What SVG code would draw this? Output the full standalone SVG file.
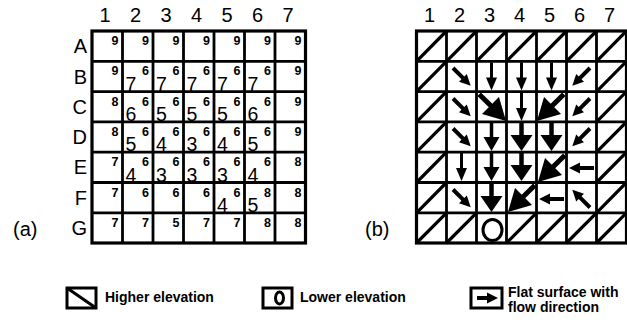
<svg xmlns="http://www.w3.org/2000/svg" xmlns:xlink="http://www.w3.org/1999/xlink" width="627" height="322" viewBox="0 0 627 322">
<style>
text{font-family:"Liberation Sans",Arial,sans-serif;fill:#000}
.hd{font-size:20px;text-anchor:middle}
.rl{font-size:20px;text-anchor:end}
.sm{font-size:12.5px;font-weight:bold;text-anchor:end}
.bg{font-size:19.5px}
.lg{font-size:14px;font-weight:bold}
.grid{stroke:#000;stroke-width:2.8;fill:none}
.outer{stroke:#000;stroke-width:3.2;fill:none}
.diag{stroke:#000;stroke-width:3.2;fill:none}
.sh{stroke:#000;fill:none}
.lbox{fill:none;stroke:#000;stroke-width:3}
</style>
<defs>
<g id="sa"><path class="sh" d="M-12,0 L3,0" stroke-width="4"/><polygon points="2,-5.5 13,0 2,5.5"/></g>
<g id="sd"><path class="sh" d="M-14,0 L2,0" stroke-width="3"/><polygon points="1,-5.5 14,0 1,5.5"/></g>
<g id="ma"><path class="sh" d="M-14,0 L1,0" stroke-width="3.5"/><polygon points="0,-8 14,0 0,8"/></g>
<g id="ba"><path class="sh" d="M-14,0 L0,0" stroke-width="4.5"/><polygon points="-2,-11 14,0 -2,11"/></g>
<g id="bd"><path class="sh" d="M-19,0 L0,0" stroke-width="5"/><polygon points="-3,-12 19,0 -3,12"/></g>
</defs>

<!-- Panel (a) -->
<g id="panel-a">
<g id="a-headers">
<text class="hd" x="105" y="22">1</text><text class="hd" x="135.5" y="22">2</text><text class="hd" x="166" y="22">3</text><text class="hd" x="196.5" y="22">4</text><text class="hd" x="227" y="22">5</text><text class="hd" x="257.5" y="22">6</text><text class="hd" x="288" y="22">7</text>
<text class="rl" x="87" y="53">A</text><text class="rl" x="87" y="83.5">B</text><text class="rl" x="87" y="113.8">C</text><text class="rl" x="87" y="144">D</text><text class="rl" x="87" y="174.4">E</text><text class="rl" x="87" y="204.7">F</text><text class="rl" x="87" y="235">G</text>
<text x="13" y="236" style="font-size:20px">(a)</text>
</g>
<g id="a-grid">
<path class="grid" d="M122.5,31V243 M153,31V243 M183.5,31V243 M214,31V243 M244.5,31V243 M275,31V243 M92,61.3H305.5 M92,91.6H305.5 M92,121.9H305.5 M92,152.2H305.5 M92,182.5H305.5 M92,212.8H305.5"/>
<rect class="outer" x="92" y="31" width="213.5" height="212"/>
</g>
<g id="a-values">
<text class="sm" x="118.5" y="45">9</text><text class="sm" x="149" y="45">9</text><text class="sm" x="179.5" y="45">9</text><text class="sm" x="210" y="45">9</text><text class="sm" x="240.5" y="45">9</text><text class="sm" x="271" y="45">9</text><text class="sm" x="301.5" y="45">9</text>
<text class="sm" x="118.5" y="75.3">9</text><text class="sm" x="149" y="75.3">6</text><text class="sm" x="179.5" y="75.3">6</text><text class="sm" x="210" y="75.3">6</text><text class="sm" x="240.5" y="75.3">6</text><text class="sm" x="271" y="75.3">6</text><text class="sm" x="301.5" y="75.3">9</text>
<text class="bg" x="125.5" y="90.6">7</text><text class="bg" x="156" y="90.6">7</text><text class="bg" x="186.5" y="90.6">7</text><text class="bg" x="217" y="90.6">7</text><text class="bg" x="247.5" y="90.6">7</text>
<text class="sm" x="118.5" y="105.6">8</text><text class="sm" x="149" y="105.6">6</text><text class="sm" x="179.5" y="105.6">6</text><text class="sm" x="210" y="105.6">6</text><text class="sm" x="240.5" y="105.6">6</text><text class="sm" x="271" y="105.6">6</text><text class="sm" x="301.5" y="105.6">9</text>
<text class="bg" x="125.5" y="120.9">6</text><text class="bg" x="156" y="120.9">5</text><text class="bg" x="186.5" y="120.9">5</text><text class="bg" x="217" y="120.9">5</text><text class="bg" x="247.5" y="120.9">6</text>
<text class="sm" x="118.5" y="135.9">8</text><text class="sm" x="149" y="135.9">6</text><text class="sm" x="179.5" y="135.9">6</text><text class="sm" x="210" y="135.9">6</text><text class="sm" x="240.5" y="135.9">6</text><text class="sm" x="271" y="135.9">6</text><text class="sm" x="301.5" y="135.9">9</text>
<text class="bg" x="125.5" y="151.2">5</text><text class="bg" x="156" y="151.2">4</text><text class="bg" x="186.5" y="151.2">3</text><text class="bg" x="217" y="151.2">4</text><text class="bg" x="247.5" y="151.2">5</text>
<text class="sm" x="118.5" y="166.2">7</text><text class="sm" x="149" y="166.2">6</text><text class="sm" x="179.5" y="166.2">6</text><text class="sm" x="210" y="166.2">6</text><text class="sm" x="240.5" y="166.2">6</text><text class="sm" x="271" y="166.2">6</text><text class="sm" x="301.5" y="166.2">8</text>
<text class="bg" x="125.5" y="181.5">4</text><text class="bg" x="156" y="181.5">3</text><text class="bg" x="186.5" y="181.5">3</text><text class="bg" x="217" y="181.5">3</text><text class="bg" x="247.5" y="181.5">4</text>
<text class="sm" x="118.5" y="196.5">7</text><text class="sm" x="149" y="196.5">6</text><text class="sm" x="179.5" y="196.5">6</text><text class="sm" x="210" y="196.5">6</text><text class="sm" x="240.5" y="196.5">6</text><text class="sm" x="271" y="196.5">8</text><text class="sm" x="301.5" y="196.5">8</text>
<text class="bg" x="217" y="211.8">4</text><text class="bg" x="247.5" y="211.8">5</text>
<text class="sm" x="118.5" y="226.8">7</text><text class="sm" x="149" y="226.8">7</text><text class="sm" x="179.5" y="226.8">5</text><text class="sm" x="210" y="226.8">7</text><text class="sm" x="240.5" y="226.8">7</text><text class="sm" x="271" y="226.8">8</text><text class="sm" x="301.5" y="226.8">8</text>
</g>
</g>

<!-- Panel (b) -->
<g id="panel-b">
<g id="b-headers">
<text class="hd" x="429.5" y="22">1</text><text class="hd" x="459.5" y="22">2</text><text class="hd" x="489.5" y="22">3</text><text class="hd" x="519.5" y="22">4</text><text class="hd" x="549.5" y="22">5</text><text class="hd" x="579.5" y="22">6</text><text class="hd" x="609.5" y="22">7</text>
<text x="365" y="236" style="font-size:20px">(b)</text>
</g>
<g id="b-grid">
<path class="grid" d="M446.5,31V243 M476.5,31V243 M506.5,31V243 M536.5,31V243 M566.5,31V243 M596.5,31V243 M416.5,61.3H626.5 M416.5,91.6H626.5 M416.5,121.9H626.5 M416.5,152.2H626.5 M416.5,182.5H626.5 M416.5,212.8H626.5"/>
<rect class="outer" x="416.5" y="31" width="210" height="212"/>
</g>
<g id="b-high-cells">
<path class="diag" d="M416.5,61.3L446.5,31 M446.5,61.3L476.5,31 M476.5,61.3L506.5,31 M506.5,61.3L536.5,31 M536.5,61.3L566.5,31 M566.5,61.3L596.5,31 M596.5,61.3L626.5,31
M416.5,91.6L446.5,61.3 M416.5,121.9L446.5,91.6 M416.5,152.2L446.5,121.9 M416.5,182.5L446.5,152.2 M416.5,212.8L446.5,182.5 M416.5,243L446.5,212.8
M596.5,91.6L626.5,61.3 M596.5,121.9L626.5,91.6 M596.5,152.2L626.5,121.9 M596.5,182.5L626.5,152.2 M596.5,212.8L626.5,182.5 M596.5,243L626.5,212.8
M446.5,243L476.5,212.8 M506.5,243L536.5,212.8 M536.5,243L566.5,212.8 M566.5,243L596.5,212.8"/>
</g>
<g id="b-outlet">
<ellipse cx="492.5" cy="230" rx="9.5" ry="10.5" fill="none" stroke="#000" stroke-width="3"/>
</g>
<g id="flow-arrows">
<use xlink:href="#sa" transform="translate(461.5,76.5) rotate(45)"/>
<use xlink:href="#sd" transform="translate(491.5,76.5) rotate(90)"/>
<use xlink:href="#sd" transform="translate(521.5,76.5) rotate(90)"/>
<use xlink:href="#sd" transform="translate(551.5,76.5) rotate(90)"/>
<use xlink:href="#sa" transform="translate(581.5,76.5) rotate(135)"/>

<use xlink:href="#sa" transform="translate(461.5,107) rotate(45)"/>
<use xlink:href="#bd" transform="translate(492.6,107.6) rotate(45)"/>
<use xlink:href="#sd" transform="translate(521.5,107) rotate(90)"/>
<use xlink:href="#bd" transform="translate(550.4,107.6) rotate(135)"/>
<use xlink:href="#sa" transform="translate(581.5,107) rotate(135)"/>

<use xlink:href="#sa" transform="translate(461.5,137) rotate(45)"/>
<use xlink:href="#ma" transform="translate(491.5,137) rotate(90)"/>
<use xlink:href="#ba" transform="translate(521.5,137) rotate(90)"/>
<use xlink:href="#ba" transform="translate(551.5,137) rotate(90)"/>
<use xlink:href="#sa" transform="translate(581.5,137) rotate(135)"/>

<use xlink:href="#sd" transform="translate(461.5,167) rotate(90)"/>
<use xlink:href="#ma" transform="translate(491.5,167) rotate(90)"/>
<use xlink:href="#ba" transform="translate(521.5,167) rotate(90)"/>
<use xlink:href="#bd" transform="translate(551.4,168.6) rotate(135)"/>
<use xlink:href="#sa" transform="translate(582,168) rotate(180)"/>

<use xlink:href="#sa" transform="translate(461.5,198) rotate(45)"/>
<use xlink:href="#ba" transform="translate(491.5,198) rotate(90)"/>
<use xlink:href="#bd" transform="translate(521.4,198.6) rotate(135)"/>
<use xlink:href="#sa" transform="translate(552,199) rotate(180)"/>
<use xlink:href="#sa" transform="translate(581.5,199) rotate(-135)"/>
</g>
</g>

<!-- Legend -->
<g id="legend-high">
<rect class="lbox" x="67" y="288" width="29" height="20"/>
<path d="M67,288 L96,308" stroke="#000" stroke-width="3"/>
<text class="lg" x="105" y="302">Higher elevation</text>
</g>
<g id="legend-low">
<rect class="lbox" x="263" y="288" width="29" height="20"/>
<ellipse cx="279.5" cy="298" rx="4" ry="6" fill="none" stroke="#000" stroke-width="3"/>
<text class="lg" x="300" y="302">Lower elevation</text>
</g>
<g id="legend-flat">
<rect class="lbox" x="471" y="288" width="31" height="20"/>
<path d="M477,298 H489" stroke="#000" stroke-width="4"/>
<polygon points="487,292.5 498,298 487,303.5"/>
<text class="lg" x="508" y="296.5">Flat surface with</text>
<text class="lg" x="508" y="312">flow direction</text>
</g>
</svg>
